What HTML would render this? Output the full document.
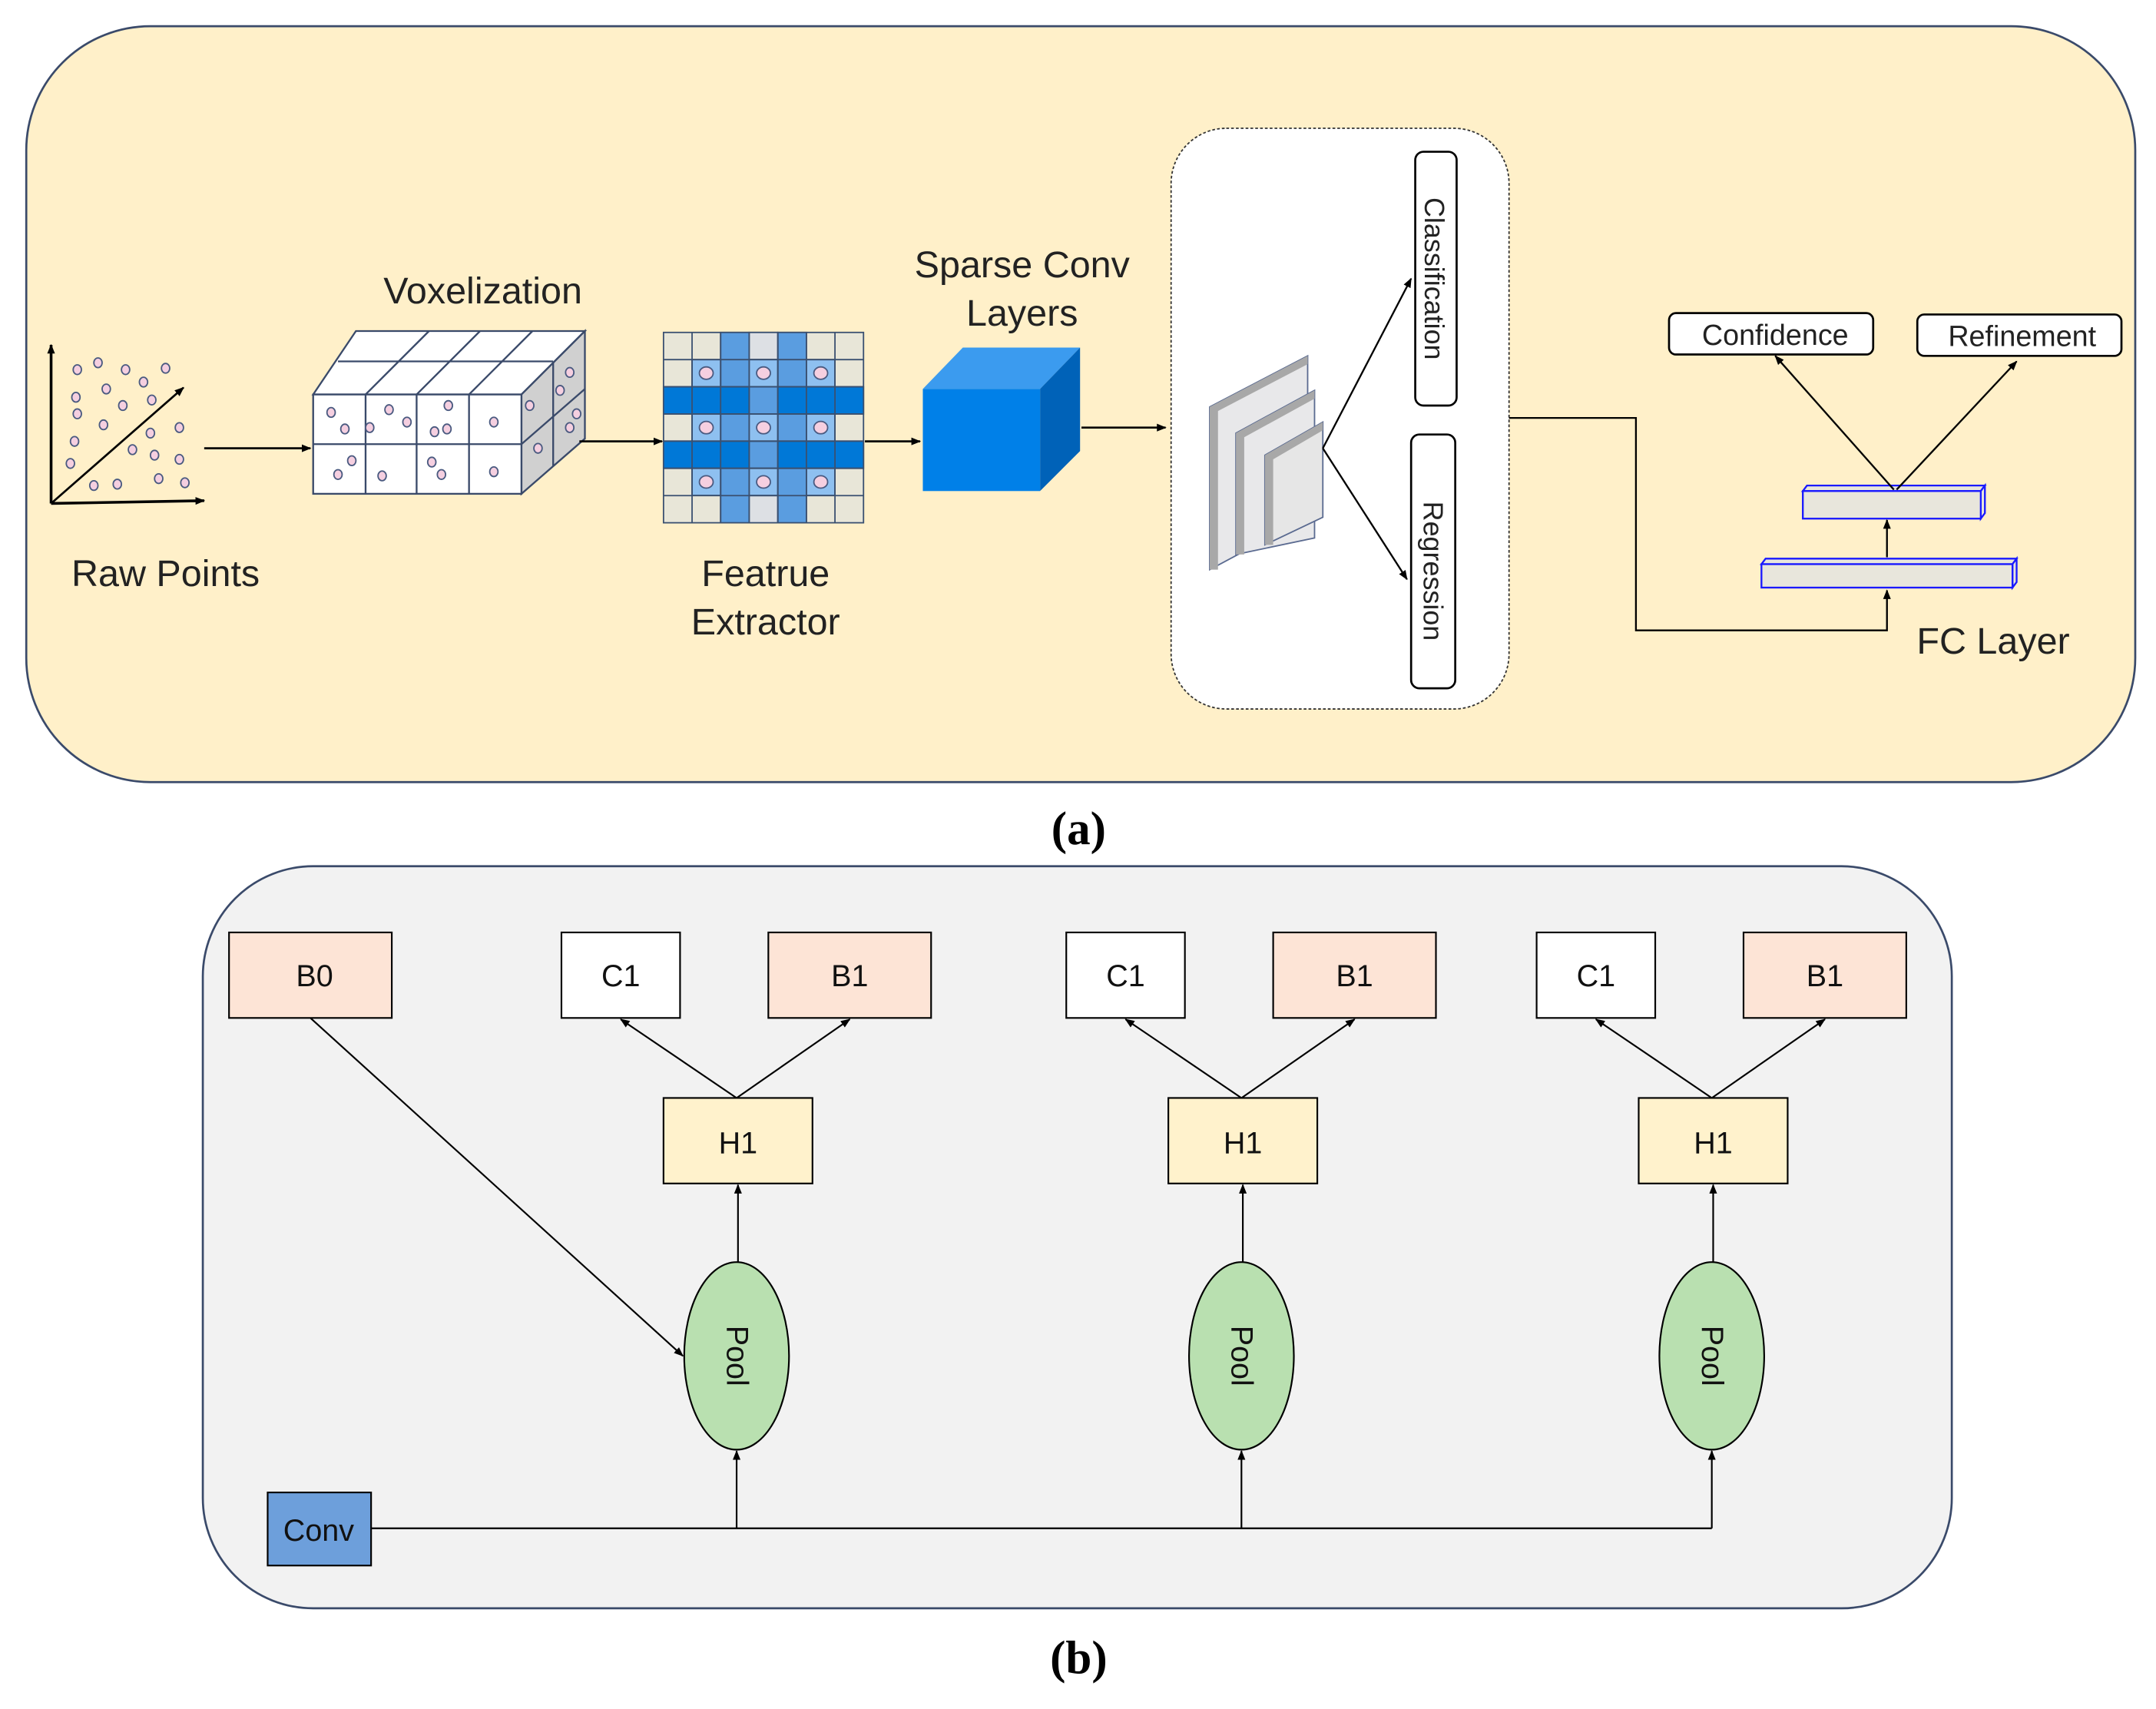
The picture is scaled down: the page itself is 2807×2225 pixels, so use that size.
<!DOCTYPE html>
<html><head><meta charset="utf-8"><style>
html,body{margin:0;padding:0;background:#fff;}
svg{display:block;}
text{font-family:"Liberation Sans",sans-serif;}
</style></head><body>
<svg width="2807" height="2225" viewBox="0 0 1563 1239" xmlns="http://www.w3.org/2000/svg">
<defs>
<marker id="ar" viewBox="0 0 10 10" refX="9" refY="5" markerWidth="7" markerHeight="7" orient="auto-start-reverse" markerUnits="userSpaceOnUse"><path d="M0,1 L10,5 L0,9 z" fill="#000"/></marker>
</defs>
<!-- Panel a -->
<rect x="19" y="19" width="1529" height="548" rx="90" fill="#fff0c9" stroke="#3a4a6a" stroke-width="1.5"/>
<!-- raw points -->
<line x1="37" y1="365" x2="37" y2="250" stroke="#000" stroke-width="2" marker-end="url(#ar)"/>
<line x1="37" y1="365" x2="148" y2="363" stroke="#000" stroke-width="2" marker-end="url(#ar)"/>
<line x1="37" y1="365" x2="133" y2="281" stroke="#000" stroke-width="1.5" marker-end="url(#ar)"/>
<g fill="#f5cfe0" stroke="#4a5a80" stroke-width="1">
<ellipse cx="56" cy="268" rx="3" ry="3.5"/><ellipse cx="71" cy="263" rx="3" ry="3.5"/><ellipse cx="91" cy="268" rx="3" ry="3.5"/><ellipse cx="120" cy="267" rx="3" ry="3.5"/>
<ellipse cx="104" cy="277" rx="3" ry="3.5"/><ellipse cx="77" cy="282" rx="3" ry="3.5"/><ellipse cx="55" cy="288" rx="3" ry="3.5"/><ellipse cx="110" cy="290" rx="3" ry="3.5"/>
<ellipse cx="89" cy="294" rx="3" ry="3.5"/><ellipse cx="56" cy="300" rx="3" ry="3.5"/><ellipse cx="75" cy="308" rx="3" ry="3.5"/><ellipse cx="130" cy="310" rx="3" ry="3.5"/>
<ellipse cx="109" cy="314" rx="3" ry="3.5"/><ellipse cx="54" cy="320" rx="3" ry="3.5"/><ellipse cx="96" cy="326" rx="3" ry="3.5"/><ellipse cx="112" cy="330" rx="3" ry="3.5"/>
<ellipse cx="130" cy="333" rx="3" ry="3.5"/><ellipse cx="51" cy="336" rx="3" ry="3.5"/><ellipse cx="115" cy="347" rx="3" ry="3.5"/><ellipse cx="68" cy="352" rx="3" ry="3.5"/>
<ellipse cx="85" cy="351" rx="3" ry="3.5"/><ellipse cx="134" cy="350" rx="3" ry="3.5"/>
</g>
<text x="120" y="425" font-size="27" text-anchor="middle" fill="#222">Raw Points</text>
<line x1="148" y1="325" x2="225" y2="325" stroke="#000" stroke-width="1.5" marker-end="url(#ar)"/>
<!-- voxel cube -->
<g stroke="#3a4a6a" stroke-width="1.3">
<polygon points="227,286 258,240 424,240 378,286" fill="#fff"/>
<polygon points="378,286 424,240 424,318 378,358" fill="#d0d0d0"/>
<rect x="227" y="286" width="151" height="72" fill="#fff"/>
<line x1="227" y1="322" x2="378" y2="322"/>
<line x1="265" y1="286" x2="265" y2="358"/><line x1="302" y1="286" x2="302" y2="358"/><line x1="340" y1="286" x2="340" y2="358"/>
<line x1="245" y1="262" x2="401" y2="262"/>
<line x1="265" y1="286" x2="311" y2="240"/><line x1="302" y1="286" x2="348" y2="240"/><line x1="340" y1="286" x2="386" y2="240"/>
<line x1="378" y1="322" x2="424" y2="282"/><line x1="401" y1="262" x2="401" y2="338"/>
</g>
<g fill="#f5cfe0" stroke="#4a5a80" stroke-width="1">
<ellipse cx="240" cy="299" rx="3" ry="3.5"/><ellipse cx="250" cy="311" rx="3" ry="3.5"/><ellipse cx="268" cy="310" rx="3" ry="3.5"/><ellipse cx="282" cy="297" rx="3" ry="3.5"/>
<ellipse cx="295" cy="306" rx="3" ry="3.5"/><ellipse cx="315" cy="313" rx="3" ry="3.5"/><ellipse cx="324" cy="311" rx="3" ry="3.5"/><ellipse cx="325" cy="294" rx="3" ry="3.5"/>
<ellipse cx="358" cy="306" rx="3" ry="3.5"/><ellipse cx="255" cy="334" rx="3" ry="3.5"/><ellipse cx="245" cy="344" rx="3" ry="3.5"/><ellipse cx="277" cy="345" rx="3" ry="3.5"/>
<ellipse cx="313" cy="335" rx="3" ry="3.5"/><ellipse cx="320" cy="344" rx="3" ry="3.5"/><ellipse cx="358" cy="342" rx="3" ry="3.5"/>
<ellipse cx="413" cy="270" rx="3" ry="3.5"/><ellipse cx="406" cy="283" rx="3" ry="3.5"/><ellipse cx="418" cy="300" rx="3" ry="3.5"/><ellipse cx="413" cy="310" rx="3" ry="3.5"/>
<ellipse cx="384" cy="294" rx="3" ry="3.5"/><ellipse cx="390" cy="325" rx="3" ry="3.5"/>
</g>
<text x="350" y="220" font-size="27" text-anchor="middle" fill="#222">Voxelization</text>
<line x1="420" y1="320" x2="480" y2="320" stroke="#000" stroke-width="1.5" marker-end="url(#ar)"/>
<!-- feature grid -->
<g stroke="#3a5070" stroke-width="1">
<!-- rows 0..6, cols 0..6 -->
<rect x="481" y="241" width="145" height="138" fill="#e8e6d8"/>
<rect x="522.4" y="241" width="20.7" height="138" fill="#5a9de0"/>
<rect x="563.9" y="241" width="20.7" height="138" fill="#5a9de0"/>
<rect x="543.1" y="241" width="20.7" height="19.7" fill="#dde0e4"/>
<rect x="543.1" y="359.3" width="20.7" height="19.7" fill="#dde0e4"/>
<rect x="481" y="280.4" width="145" height="19.7" fill="#0078d7"/>
<rect x="481" y="319.8" width="145" height="19.7" fill="#0078d7"/>
<rect x="543.1" y="280.4" width="20.7" height="19.7" fill="#5a9de0"/>
<rect x="543.1" y="319.8" width="20.7" height="19.7" fill="#5a9de0"/>
<g fill="#8ec0f0">
<rect x="501.7" y="260.7" width="20.7" height="19.7"/><rect x="543.1" y="260.7" width="20.7" height="19.7"/><rect x="584.6" y="260.7" width="20.7" height="19.7"/>
<rect x="501.7" y="300.1" width="20.7" height="19.7"/><rect x="543.1" y="300.1" width="20.7" height="19.7"/><rect x="584.6" y="300.1" width="20.7" height="19.7"/>
<rect x="501.7" y="339.5" width="20.7" height="19.7"/><rect x="543.1" y="339.5" width="20.7" height="19.7"/><rect x="584.6" y="339.5" width="20.7" height="19.7"/>
</g>
<path d="M501.7,241V379M522.4,241V379M543.1,241V379M563.9,241V379M584.6,241V379M605.3,241V379M481,260.7H626M481,280.4H626M481,300.1H626M481,319.8H626M481,339.5H626M481,359.3H626" fill="none"/>
<g fill="#f5cfe0" stroke="#4a5a80">
<ellipse cx="512" cy="270.5" rx="5" ry="4.5"/><ellipse cx="553.5" cy="270.5" rx="5" ry="4.5"/><ellipse cx="595" cy="270.5" rx="5" ry="4.5"/>
<ellipse cx="512" cy="310" rx="5" ry="4.5"/><ellipse cx="553.5" cy="310" rx="5" ry="4.5"/><ellipse cx="595" cy="310" rx="5" ry="4.5"/>
<ellipse cx="512" cy="349.4" rx="5" ry="4.5"/><ellipse cx="553.5" cy="349.4" rx="5" ry="4.5"/><ellipse cx="595" cy="349.4" rx="5" ry="4.5"/>
</g>
</g>
<text x="555" y="425" font-size="27" text-anchor="middle" fill="#222">Featrue</text>
<text x="555" y="460" font-size="27" text-anchor="middle" fill="#222">Extractor</text>
<line x1="627" y1="320" x2="667" y2="320" stroke="#000" stroke-width="1.5" marker-end="url(#ar)"/>
<!-- blue cube -->
<polygon points="669,282 698,252 783,252 754,282" fill="#3b9bef"/>
<polygon points="754,282 783,252 783,327 754,356" fill="#0062b8"/>
<rect x="669" y="282" width="85" height="74" fill="#0080e8"/>
<text x="741" y="201" font-size="27" text-anchor="middle" fill="#222">Sparse Conv</text>
<text x="741" y="236" font-size="27" text-anchor="middle" fill="#222">Layers</text>
<line x1="784" y1="310" x2="845" y2="310" stroke="#000" stroke-width="1.5" marker-end="url(#ar)"/>
<!-- dotted box -->
<rect x="849" y="93" width="245" height="421" rx="40" fill="#fff" stroke="#333" stroke-width="1" stroke-dasharray="2,1.5"/>
<!-- layers -->
<g>
<polygon points="877,295 948,258 948,375 877,413" fill="#e8e8ea" stroke="#5a6a90" stroke-width="1"/>
<polygon points="877,295 948,258 948,264 883,298 883,413 877,413" fill="#a8a8a8"/>
<polygon points="896,314 953,283 953,390 896,402" fill="#e8e8ea" stroke="#5a6a90" stroke-width="1"/>
<polygon points="896,314 953,283 953,289 902,317 902,402 896,402" fill="#a8a8a8"/>
<polygon points="917,330 959,306 959,375 917,395" fill="#e6e6e6" stroke="#5a6a90" stroke-width="1"/>
<polygon points="917,330 959,306 959,312 923,333 923,395 917,395" fill="#a8a8a8"/>
</g>
<line x1="959" y1="325" x2="1023" y2="202" stroke="#000" stroke-width="1.3" marker-end="url(#ar)"/>
<line x1="959" y1="325" x2="1020" y2="420" stroke="#000" stroke-width="1.3" marker-end="url(#ar)"/>
<rect x="1026" y="110" width="30" height="184" rx="6" fill="#fff" stroke="#000" stroke-width="1.5"/>
<text transform="translate(1033,202) rotate(90)" font-size="20" text-anchor="middle" fill="#222">Classification</text>
<rect x="1023" y="315" width="32" height="184" rx="6" fill="#fff" stroke="#000" stroke-width="1.5"/>
<text transform="translate(1032,414) rotate(90)" font-size="20" text-anchor="middle" fill="#222">Regression</text>
<!-- FC -->
<polyline points="1094,303 1186,303 1186,457 1368,457 1368,428" fill="none" stroke="#000" stroke-width="1.3" marker-end="url(#ar)"/>
<g stroke="#1a1aff" stroke-width="1.3">
<polygon points="1277,409 1280,405 1462,405 1459,409" fill="#e8e6dc"/>
<polygon points="1459,409 1462,405 1462,422 1459,426" fill="#e8e6dc"/>
<rect x="1277" y="409" width="182" height="17" fill="#e8e6dc"/>
<polygon points="1307,356 1310,352 1439,352 1436,356" fill="#e8e6dc"/>
<polygon points="1436,356 1439,352 1439,372 1436,376" fill="#e8e6dc"/>
<rect x="1307" y="356" width="129" height="20" fill="#e8e6dc"/>
</g>
<line x1="1368" y1="404" x2="1368" y2="377" stroke="#000" stroke-width="1.3" marker-end="url(#ar)"/>
<line x1="1373" y1="355" x2="1287" y2="258" stroke="#000" stroke-width="1.3" marker-end="url(#ar)"/>
<line x1="1375" y1="355" x2="1462" y2="262" stroke="#000" stroke-width="1.3" marker-end="url(#ar)"/>
<rect x="1210" y="227" width="148" height="30" rx="5" fill="#fff" stroke="#000" stroke-width="1.5"/>
<text x="1287" y="250" font-size="21" text-anchor="middle" fill="#222">Confidence</text>
<rect x="1390" y="228" width="148" height="30" rx="5" fill="#fff" stroke="#000" stroke-width="1.5"/>
<text x="1466" y="251" font-size="21" text-anchor="middle" fill="#222">Refinement</text>
<text x="1445" y="474" font-size="27" text-anchor="middle" fill="#222">FC Layer</text>
<text x="782" y="612" font-size="34" font-weight="bold" text-anchor="middle" fill="#000" style="font-family:'Liberation Serif',serif">(a)</text>
<!-- Panel b -->
<rect x="147" y="628" width="1268" height="538" rx="80" fill="#f2f2f2" stroke="#3a4a6a" stroke-width="1.5"/>
<g stroke="#000" stroke-width="1.2">
<rect x="166" y="676" width="118" height="62" fill="#fde4d6"/>
<g id="grp">
<rect x="407" y="676" width="86" height="62" fill="#fff"/>
<rect x="557" y="676" width="118" height="62" fill="#fde4d6"/>
<rect x="481" y="796" width="108" height="62" fill="#fff2cc"/>
<ellipse cx="534" cy="983" rx="38" ry="68" fill="#b9e0b0"/>
<line x1="534" y1="796" x2="450" y2="739" marker-end="url(#ar)"/>
<line x1="534" y1="796" x2="616" y2="739" marker-end="url(#ar)"/>
<line x1="535" y1="915" x2="535" y2="859" marker-end="url(#ar)"/>
<line x1="534" y1="1108" x2="534" y2="1052" marker-end="url(#ar)"/>
</g>
<use href="#grp" transform="translate(366,0)"/>
<use href="#grp" transform="translate(707,0)"/>
<rect x="194" y="1082" width="75" height="53" fill="#6d9fdb"/>
<line x1="269" y1="1108" x2="1241" y2="1108"/>
<line x1="225" y1="738" x2="495" y2="983" marker-end="url(#ar)"/>
</g>
<g font-size="22" fill="#111" text-anchor="middle">
<text x="228" y="715">B0</text>
<text x="450" y="715">C1</text><text x="616" y="715">B1</text><text x="535" y="836">H1</text>
<text x="816" y="715">C1</text><text x="982" y="715">B1</text><text x="901" y="836">H1</text>
<text x="1157" y="715">C1</text><text x="1323" y="715">B1</text><text x="1242" y="836">H1</text>
<text x="231" y="1117">Conv</text>
<text transform="translate(527,983) rotate(90)">Pool</text>
<text transform="translate(893,983) rotate(90)">Pool</text>
<text transform="translate(1234,983) rotate(90)">Pool</text>
</g>
<text x="782" y="1213" font-size="34" font-weight="bold" text-anchor="middle" fill="#000" style="font-family:'Liberation Serif',serif">(b)</text>
</svg>
</body></html>
